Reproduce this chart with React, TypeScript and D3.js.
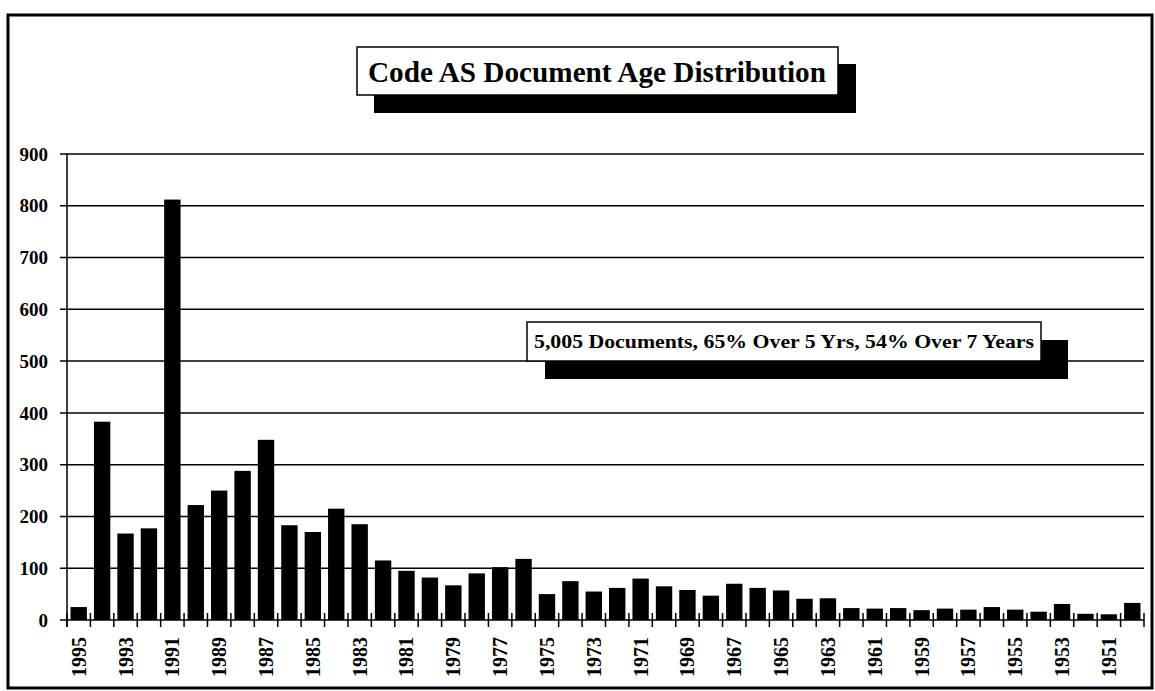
import React from "react";
import * as d3 from "d3";

const years: number[] = [
  1995, 1994, 1993, 1992, 1991, 1990, 1989, 1988, 1987, 1986, 1985, 1984, 1983, 1982,
  1981, 1980, 1979, 1978, 1977, 1976, 1975, 1974, 1973, 1972, 1971, 1970, 1969, 1968,
  1967, 1966, 1965, 1964, 1963, 1962, 1961, 1960, 1959, 1958, 1957, 1956, 1955, 1954,
  1953, 1952, 1951, 1950,
];
const docCounts: number[] = [
  25, 383, 167, 177, 812, 222, 250, 288, 348, 183, 170, 215, 185, 115,
  95, 82, 67, 90, 102, 118, 50, 75, 55, 62, 80, 65, 58, 47,
  70, 62, 57, 41, 42, 23, 22, 23, 19, 22, 20, 25, 20, 16,
  31, 12, 11, 33,
];
const yTicks: number[] = [0, 100, 200, 300, 400, 500, 600, 700, 800, 900];
const titleText = "Code AS Document Age Distribution";
const noteText = "5,005 Documents, 65% Over 5 Yrs, 54% Over 7 Years";

const W = 1155;
const H = 691;
const FONT = "'Liberation Serif', 'Times New Roman', serif";

export default function App() {
  const left = 67;
  const right = 1144;
  const top = 154;
  const bottom = 620;

  const x = d3
    .scaleBand<number>()
    .domain(years)
    .range([left, right])
    .paddingInner(0.3)
    .paddingOuter(0.15);
  const y = d3.scaleLinear().domain([0, 900]).range([bottom, top]);
  const step = x.step();
  const gap = (step - x.bandwidth()) / 2;
  const boundaries = years.map((yr) => (x(yr) as number) - gap).concat([right]);

  return (
    <svg
      width={W}
      height={H}
      style={{ position: "absolute", left: 0, top: 0, background: "#fff" }}
      fontFamily={FONT}
    >
      <rect x={0} y={0} width={W} height={H} fill="#fff" />
      {/* outer frame */}
      <rect x={8} y={15} width={1144} height={673} fill="none" stroke="#000" strokeWidth={3} />

      {/* gridlines */}
      {yTicks.map((t) => (
        <line
          key={"g" + t}
          x1={left - 7}
          x2={right}
          y1={y(t)}
          y2={y(t)}
          stroke="#000"
          strokeWidth={1.5}
        />
      ))}
      {/* y labels */}
      {yTicks.map((t) => (
        <text
          key={"yl" + t}
          x={48}
          y={y(t)}
          dy="0.35em"
          textAnchor="end"
          fontSize={19}
          fontWeight="bold"
        >
          {t}
        </text>
      ))}
      {/* y axis */}
      <line x1={left} x2={left} y1={top} y2={bottom + 7} stroke="#000" strokeWidth={1.5} />

      {/* bars */}
      {years.map((yr, i) => (
        <rect
          key={"b" + yr}
          x={x(yr) as number}
          y={y(docCounts[i])}
          width={x.bandwidth()}
          height={bottom - y(docCounts[i])}
          fill="#000"
        />
      ))}

      {/* x axis ticks */}
      {boundaries.map((bx, i) => (
        <line
          key={"t" + i}
          x1={bx}
          x2={bx}
          y1={bottom - 7}
          y2={bottom + 7}
          stroke="#000"
          strokeWidth={1.5}
        />
      ))}
      {/* x labels */}
      {years.map((yr, i) =>
        i % 2 === 0 ? (
          <text
            key={"xl" + yr}
            transform={`translate(${(x(yr) as number) + x.bandwidth() / 2},${bottom + 17}) rotate(-90)`}
            textAnchor="end"
            dy="0.35em"
            fontSize={20}
            fontWeight="bold"
          >
            {yr}
          </text>
        ) : null
      )}

      {/* title box */}
      <rect x={374} y={64} width={482} height={49} fill="#000" />
      <rect x={357} y={47} width={481} height={48} fill="#fff" stroke="#000" strokeWidth={1.5} />
      <text
        x={597}
        y={72}
        dy="0.35em"
        textAnchor="middle"
        fontSize={29}
        fontWeight="bold"
        textLength={458}
        lengthAdjust="spacingAndGlyphs"
      >
        {titleText}
      </text>

      {/* note box */}
      <rect x={545} y={340} width={523} height={39} fill="#000" />
      <rect x={527} y={322} width={514} height={39} fill="#fff" stroke="#000" strokeWidth={1.5} />
      <text
        x={784}
        y={341}
        dy="0.35em"
        textAnchor="middle"
        fontSize={19}
        fontWeight="bold"
        textLength={500}
        lengthAdjust="spacingAndGlyphs"
      >
        {noteText}
      </text>
    </svg>
  );
}
